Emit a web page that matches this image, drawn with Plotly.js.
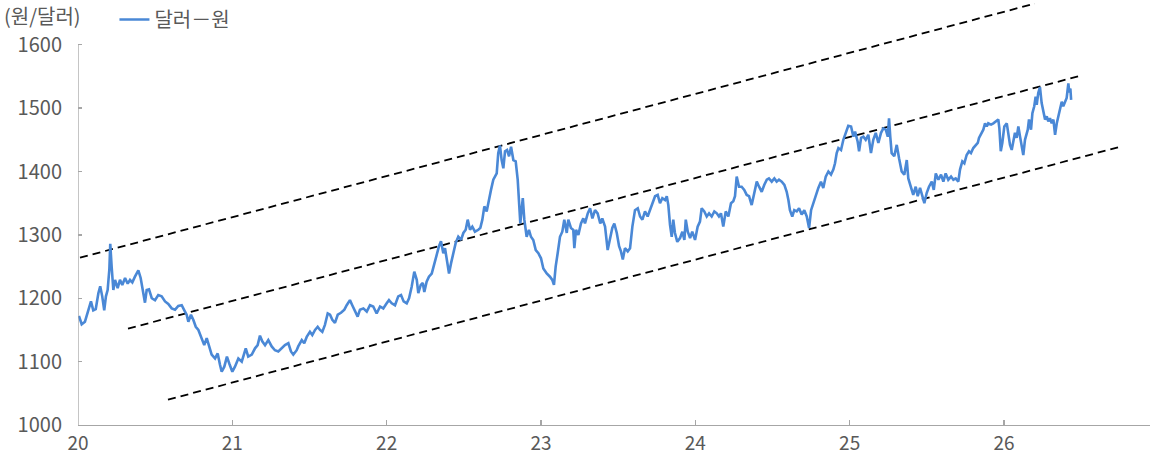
<!DOCTYPE html>
<html>
<head>
<meta charset="utf-8">
<script src="https://cdn.plot.ly/plotly-3.0.1.min.js"></script>
<style>html,body{margin:0;padding:0;background:#fff}#chart{width:1155px;height:459px}</style>
</head>
<body>
<div id="chart"></div>
<script>
// Decimal year (20 = 2020) and KRW per USD
const years = [20.006,20.024,20.045,20.067,20.084,20.099,20.115,20.132,20.144,20.157,20.170,20.181,20.192,20.203,20.209,20.218,20.229,20.240,20.257,20.272,20.287,20.305,20.322,20.337,20.352,20.369,20.391,20.406,20.419,20.434,20.445,20.460,20.478,20.499,20.520,20.542,20.564,20.585,20.607,20.629,20.650,20.672,20.689,20.704,20.715,20.732,20.747,20.763,20.780,20.802,20.818,20.834,20.849,20.866,20.888,20.905,20.920,20.931,20.948,20.965,20.980,21.000,21.017,21.039,21.061,21.087,21.103,21.126,21.147,21.164,21.179,21.194,21.212,21.233,21.255,21.276,21.298,21.320,21.341,21.363,21.380,21.395,21.417,21.427,21.450,21.466,21.482,21.503,21.518,21.536,21.553,21.568,21.583,21.600,21.618,21.633,21.648,21.665,21.683,21.704,21.726,21.741,21.762,21.777,21.795,21.812,21.827,21.849,21.871,21.892,21.913,21.935,21.957,21.978,22.000,22.015,22.033,22.054,22.075,22.093,22.110,22.130,22.145,22.162,22.179,22.195,22.205,22.221,22.234,22.244,22.259,22.274,22.292,22.309,22.324,22.339,22.352,22.367,22.378,22.393,22.404,22.417,22.432,22.447,22.464,22.482,22.497,22.512,22.525,22.540,22.555,22.572,22.594,22.607,22.620,22.633,22.648,22.663,22.676,22.691,22.702,22.713,22.723,22.734,22.745,22.756,22.767,22.780,22.793,22.806,22.821,22.836,22.849,22.858,22.866,22.874,22.882,22.892,22.907,22.922,22.935,22.950,22.966,22.983,23.000,23.015,23.037,23.058,23.073,23.084,23.095,23.108,23.123,23.138,23.151,23.167,23.177,23.194,23.209,23.216,23.227,23.242,23.259,23.274,23.285,23.303,23.318,23.333,23.350,23.367,23.384,23.397,23.415,23.432,23.447,23.462,23.475,23.491,23.506,23.518,23.530,23.544,23.562,23.577,23.592,23.609,23.627,23.642,23.657,23.674,23.691,23.706,23.721,23.739,23.756,23.771,23.786,23.804,23.815,23.825,23.836,23.847,23.857,23.868,23.883,23.901,23.916,23.929,23.938,23.951,23.966,23.980,23.998,24.015,24.030,24.041,24.058,24.074,24.089,24.106,24.123,24.139,24.153,24.166,24.181,24.197,24.214,24.231,24.246,24.257,24.268,24.283,24.300,24.317,24.333,24.348,24.365,24.380,24.398,24.413,24.430,24.447,24.463,24.477,24.495,24.512,24.527,24.542,24.560,24.577,24.592,24.603,24.613,24.628,24.641,24.657,24.672,24.689,24.706,24.722,24.737,24.750,24.765,24.780,24.797,24.814,24.829,24.845,24.862,24.879,24.894,24.905,24.916,24.927,24.944,24.959,24.974,24.991,25.009,25.024,25.035,25.052,25.061,25.074,25.089,25.104,25.121,25.138,25.153,25.169,25.186,25.203,25.218,25.234,25.247,25.255,25.263,25.272,25.289,25.305,25.320,25.337,25.354,25.370,25.380,25.397,25.412,25.428,25.441,25.456,25.471,25.484,25.499,25.514,25.532,25.545,25.558,25.575,25.592,25.607,25.622,25.639,25.657,25.672,25.687,25.704,25.715,25.730,25.743,25.758,25.773,25.786,25.801,25.817,25.830,25.838,25.851,25.866,25.877,25.888,25.898,25.916,25.931,25.946,25.963,25.970,25.979,25.989,26.002,26.018,26.028,26.039,26.050,26.060,26.071,26.082,26.093,26.104,26.115,26.125,26.136,26.154,26.162,26.175,26.184,26.196,26.205,26.212,26.222,26.233,26.244,26.255,26.266,26.277,26.287,26.298,26.309,26.320,26.331,26.342,26.352,26.363,26.374,26.384,26.395,26.406,26.417,26.423,26.430,26.435];
const usdkrw = [1172,1159,1163,1181,1195,1181,1183,1208,1219,1203,1181,1203,1213,1245,1286,1250,1213,1229,1216,1229,1221,1232,1223,1229,1225,1234,1244,1232,1210,1193,1213,1214,1200,1197,1205,1203,1195,1191,1184,1182,1188,1189,1181,1174,1163,1174,1166,1155,1150,1137,1126,1137,1126,1111,1105,1113,1095,1084,1092,1108,1097,1084,1092,1105,1100,1121,1108,1111,1121,1126,1141,1132,1126,1134,1124,1118,1116,1121,1126,1129,1116,1111,1118,1124,1134,1129,1139,1147,1142,1150,1155,1150,1147,1158,1176,1174,1166,1161,1174,1177,1182,1189,1197,1189,1179,1171,1182,1184,1179,1189,1187,1176,1187,1184,1192,1197,1192,1189,1203,1205,1195,1192,1200,1218,1242,1229,1208,1221,1224,1210,1226,1234,1239,1255,1268,1282,1290,1271,1279,1258,1239,1255,1274,1287,1297,1292,1303,1308,1324,1308,1313,1305,1308,1311,1324,1345,1337,1358,1371,1387,1392,1397,1429,1441,1418,1405,1432,1434,1424,1439,1418,1416,1387,1339,1318,1339,1358,1324,1297,1308,1297,1292,1276,1271,1263,1247,1239,1234,1229,1221,1250,1271,1297,1305,1324,1303,1324,1311,1308,1279,1308,1300,1318,1326,1318,1334,1342,1326,1339,1334,1318,1326,1313,1276,1292,1311,1318,1303,1282,1274,1261,1279,1274,1279,1313,1339,1342,1329,1324,1337,1329,1339,1347,1361,1363,1350,1358,1355,1361,1347,1316,1297,1324,1303,1289,1295,1305,1292,1324,1305,1295,1305,1292,1313,1321,1342,1337,1329,1334,1329,1337,1334,1329,1334,1313,1337,1329,1350,1353,1361,1392,1376,1376,1371,1363,1361,1347,1363,1384,1376,1368,1379,1387,1389,1384,1389,1384,1387,1384,1379,1368,1355,1339,1329,1339,1337,1342,1332,1339,1329,1311,1339,1350,1363,1374,1384,1374,1392,1400,1395,1403,1413,1429,1437,1434,1450,1461,1472,1471,1455,1463,1447,1432,1453,1455,1450,1458,1429,1450,1461,1445,1461,1468,1466,1455,1484,1455,1429,1424,1442,1421,1400,1395,1418,1389,1374,1363,1376,1361,1374,1361,1350,1366,1376,1384,1371,1397,1387,1395,1384,1397,1387,1392,1387,1389,1384,1403,1416,1413,1426,1432,1429,1437,1442,1445,1453,1458,1466,1476,1471,1476,1474,1476,1479,1482,1468,1432,1445,1471,1476,1455,1442,1434,1450,1461,1453,1471,1455,1437,1426,1450,1466,1482,1466,1492,1503,1518,1505,1524,1533,1508,1492,1482,1487,1479,1484,1476,1482,1458,1476,1487,1500,1510,1503,1510,1516,1539,1525,1531,1513];

// Trend channel endpoints (year, value)
const upperX = [20.013, 26.20];
const upperY = [1264, 1665];
const midX = [20.324, 26.494];
const midY = [1152, 1551];
const lowX = [20.583, 26.753];
const lowY = [1040, 1439];

const xTickVals = [20, 21, 22, 23, 24, 25, 26];
const xTickText = ['20', '21', '22', '23', '24', '25', '26'];
const yTickVals = [1000, 1100, 1200, 1300, 1400, 1500, 1600];
const yTickText = ['1000', '1100', '1200', '1300', '1400', '1500', '1600'];

const seriesName = '달러－원';
const unitLabel = '(원/달러)';

const FONT = '"Noto Sans CJK KR", "Noto Sans", sans-serif';
const GREY = '#595959';
const AXIS = '#A6A6A6';

const dashStyle = {color: '#000000', width: 1.8, dash: '8px,5px'};

const traces = [
  {x: upperX, y: upperY, type: 'scatter', mode: 'lines', line: dashStyle, showlegend: false, hoverinfo: 'skip'},
  {x: midX, y: midY, type: 'scatter', mode: 'lines', line: dashStyle, showlegend: false, hoverinfo: 'skip'},
  {x: lowX, y: lowY, type: 'scatter', mode: 'lines', line: dashStyle, showlegend: false, hoverinfo: 'skip'},
  {x: years, y: usdkrw, type: 'scatter', mode: 'lines', name: seriesName,
   line: {color: '#4A88D6', width: 2.6}}
];

const layout = {
  width: 1155, height: 459,
  margin: {l: 78, r: 5, t: 0, b: 34},
  paper_bgcolor: '#ffffff', plot_bgcolor: '#ffffff',
  font: {family: FONT, size: 19, color: GREY},
  showlegend: true,
  legend: {orientation: 'h', x: 0.034, xanchor: 'left', y: 0.955, yanchor: 'middle',
           font: {family: FONT, size: 20, color: GREY}, bgcolor: 'rgba(0,0,0,0)'},
  xaxis: {range: [20, 26.946], showgrid: false, zeroline: false, showline: true,
          linecolor: AXIS, linewidth: 1.3, ticks: 'inside', ticklen: 5, tickcolor: AXIS,
          tickwidth: 1.3, tickvals: xTickVals, ticktext: xTickText, ticklabelstandoff: 1,
          tickfont: {family: FONT, size: 19, color: GREY}, fixedrange: true},
  yaxis: {range: [1000, 1670.6], showgrid: false, zeroline: false, showline: false,
          ticks: 'inside', ticklen: 4, tickcolor: AXIS, tickwidth: 1.3,
          tickvals: yTickVals, ticktext: yTickText, ticklabelstandoff: 15,
          tickfont: {family: FONT, size: 20, color: GREY}, fixedrange: true},
  shapes: [
    {type: 'line', xref: 'x', yref: 'y', x0: 20, x1: 20, y0: yTickVals[0], y1: yTickVals[yTickVals.length - 1],
     line: {color: AXIS, width: 1.3}, layer: 'above'}
  ],
  annotations: [
    {text: unitLabel, xref: 'paper', yref: 'paper', x: -0.071, xanchor: 'left', y: 0.963, yanchor: 'middle',
     showarrow: false, font: {family: FONT, size: 20, color: GREY}}
  ]
};

Plotly.newPlot('chart', traces, layout, {displayModeBar: false, staticPlot: true});
</script>
</body>
</html>
